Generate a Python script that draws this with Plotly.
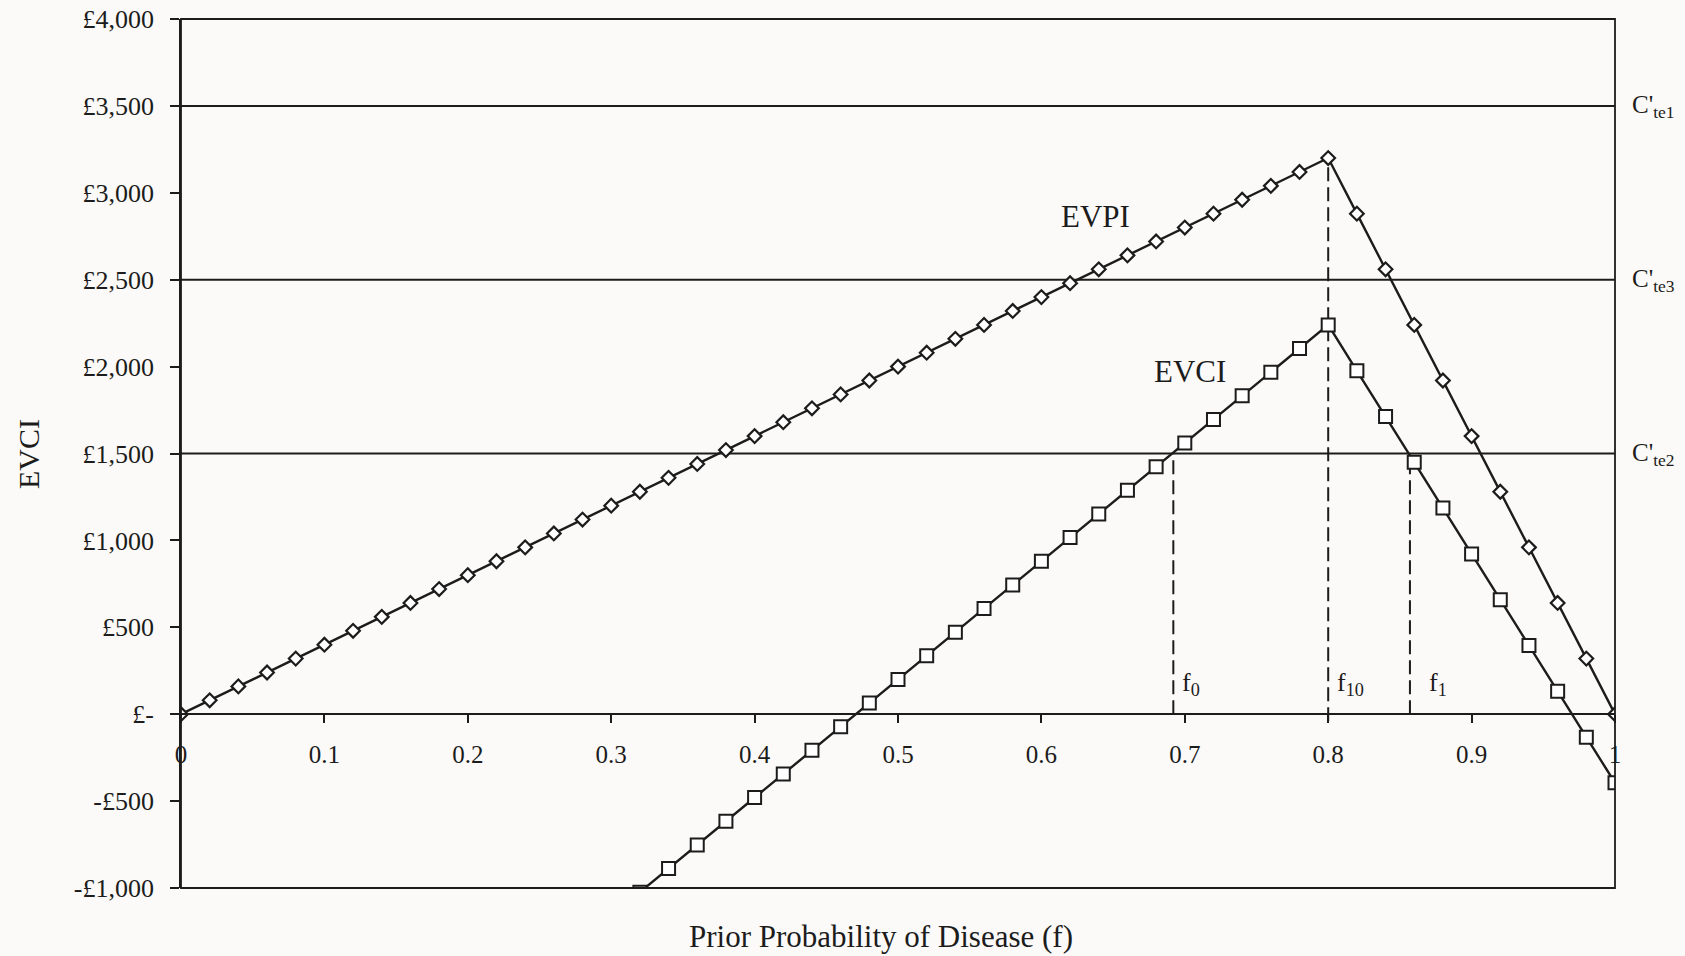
import plotly.graph_objects as go

# ---------------- data ----------------
f_evpi = [0.00, 0.02, 0.04, 0.06, 0.08, 0.10, 0.12, 0.14, 0.16, 0.18,
          0.20, 0.22, 0.24, 0.26, 0.28, 0.30, 0.32, 0.34, 0.36, 0.38,
          0.40, 0.42, 0.44, 0.46, 0.48, 0.50, 0.52, 0.54, 0.56, 0.58,
          0.60, 0.62, 0.64, 0.66, 0.68, 0.70, 0.72, 0.74, 0.76, 0.78,
          0.80, 0.82, 0.84, 0.86, 0.88, 0.90, 0.92, 0.94, 0.96, 0.98, 1.00]
evpi = [0, 80, 160, 240, 320, 400, 480, 560, 640, 720,
        800, 880, 960, 1040, 1120, 1200, 1280, 1360, 1440, 1520,
        1600, 1680, 1760, 1840, 1920, 2000, 2080, 2160, 2240, 2320,
        2400, 2480, 2560, 2640, 2720, 2800, 2880, 2960, 3040, 3120,
        3200, 2880, 2560, 2240, 1920, 1600, 1280, 960, 640, 320, 0]

f_evci = [0.32, 0.34, 0.36, 0.38, 0.40, 0.42, 0.44, 0.46, 0.48, 0.50,
          0.52, 0.54, 0.56, 0.58, 0.60, 0.62, 0.64, 0.66, 0.68, 0.70,
          0.72, 0.74, 0.76, 0.78, 0.80, 0.82, 0.84, 0.86, 0.88, 0.90,
          0.92, 0.94, 0.96, 0.98, 1.00]
evci = [-1024, -888, -752, -616, -480, -344, -208, -72, 64, 200,
        336, 472, 608, 744, 880, 1016, 1152, 1288, 1424, 1560,
        1696, 1832, 1968, 2104, 2240, 1976, 1713, 1449, 1186, 922,
        659, 395, 132, -132, -395]

cte_levels = [3500, 2500, 1500]
cte_labels = ["C'<sub>te1</sub>", "C'<sub>te3</sub>", "C'<sub>te2</sub>"]

threshold_f = [0.692, 0.80, 0.857]
threshold_top = [1500, 3200, 1500]
threshold_bottom = [0, -40, 0]
threshold_labels = ["f<sub>0</sub>", "f<sub>10</sub>", "f<sub>1</sub>"]

y_ticks = [-1000, -500, 0, 500, 1000, 1500, 2000, 2500, 3000, 3500, 4000]
y_ticktext = ["-£1,000", "-£500", "£-", "£500", "£1,000", "£1,500",
              "£2,000", "£2,500", "£3,000", "£3,500", "£4,000"]
x_ticks = [0, 0.1, 0.2, 0.3, 0.4, 0.5, 0.6, 0.7, 0.8, 0.9, 1.0]
x_ticktext = ["0", "0.1", "0.2", "0.3", "0.4", "0.5", "0.6", "0.7", "0.8", "0.9", "1"]

# ---------------- styling ----------------
FONT = "Liberation Serif, Times New Roman, serif"
INK = "#1c1c1c"
BG = "#fbfaf8"

fig = go.Figure()

# threshold lines C'te
for lvl in cte_levels:
    fig.add_trace(go.Scatter(x=[0, 1], y=[lvl, lvl], mode="lines",
                             line=dict(color=INK, width=2), hoverinfo="skip"))

# dashed vertical lines
for fx, top, bot in zip(threshold_f, threshold_top, threshold_bottom):
    fig.add_trace(go.Scatter(x=[fx, fx], y=[bot, top], mode="lines",
                             line=dict(color=INK, width=2, dash="14px,6px"),
                             hoverinfo="skip"))

# EVPI
fig.add_trace(go.Scatter(x=f_evpi, y=evpi, mode="lines+markers", name="EVPI",
                         line=dict(color=INK, width=2.4),
                         marker=dict(symbol="diamond", size=10.5, color="white",
                                     line=dict(color=INK, width=2.2)),
                         cliponaxis=True))
# EVCI
fig.add_trace(go.Scatter(x=f_evci, y=evci, mode="lines+markers", name="EVCI",
                         line=dict(color=INK, width=2.4),
                         marker=dict(symbol="square", size=13, color="white",
                                     line=dict(color=INK, width=2)),
                         cliponaxis=True))

annotations = []
for lvl, lab in zip(cte_levels, cte_labels):
    annotations.append(dict(x=1, xref="paper", y=lvl, yref="y", text=lab,
                            xanchor="left", yanchor="middle", xshift=15, yshift=-1,
                            showarrow=False, font=dict(size=25, color=INK, family=FONT)))
for fx, lab in zip(threshold_f, threshold_labels):
    annotations.append(dict(x=fx, xref="x", y=175, yref="y", text=lab,
                            xanchor="left", yanchor="middle",
                            xshift=7 if lab != "f<sub>1</sub>" else 17,
                            showarrow=False, font=dict(size=26, color=INK, family=FONT)))
annotations += [
    dict(x=0.638, y=2865, xref="x", yref="y", text="EVPI", showarrow=False,
         font=dict(size=31, color=INK, family=FONT)),
    dict(x=0.7036, y=1973, xref="x", yref="y", text="EVCI", showarrow=False,
         font=dict(size=31, color=INK, family=FONT)),
    dict(x=-0.1088, xshift=-15, y=0.5, xref="paper", yref="paper", text="EVCI",
         textangle=-90, showarrow=False, font=dict(size=30, color=INK, family=FONT)),
    dict(x=0.488, y=-0.0564, yshift=-19, xref="paper", yref="paper",
         text="Prior Probability of Disease (f)", showarrow=False,
         font=dict(size=31, color=INK, family=FONT)),
]

fig.update_layout(
    width=1685, height=956, autosize=False,
    margin=dict(l=181, r=70, t=19, b=68, pad=0),
    paper_bgcolor=BG, plot_bgcolor=BG, showlegend=False,
    font=dict(family=FONT, color=INK),
    xaxis=dict(range=[0, 1], anchor="free", position=0.2, automargin=False,
               showline=True, linecolor=INK, linewidth=1.6,
               ticks="outside", ticklen=8, tickwidth=1.5, tickcolor=INK,
               tickvals=x_ticks, ticktext=x_ticktext,
               tickfont=dict(size=25, color=INK, family=FONT),
               ticklabelstandoff=10,
               showgrid=False, zeroline=False),
    xaxis2=dict(overlaying="x", range=[0, 1], anchor="free", position=0.2,
                automargin=False,
                ticks="inside", ticklen=7, tickwidth=1.5, tickcolor=INK,
                tickvals=x_ticks, showticklabels=False, showline=False,
                showgrid=False, zeroline=False),
    yaxis=dict(range=[-1000, 4000], showline=True, linecolor=INK, linewidth=1.8,
               automargin=False,
               ticks="outside", ticklen=9, tickwidth=1.5, tickcolor=INK,
               tickvals=y_ticks, ticktext=y_ticktext,
               tickfont=dict(size=26, color=INK, family=FONT),
               ticklabelstandoff=11,
               showgrid=False, zeroline=False),
    yaxis2=dict(overlaying="y", range=[-1000, 4000], anchor="free", position=0,
                automargin=False,
                ticks="inside", ticklen=6, tickwidth=1.5, tickcolor=INK,
                tickvals=y_ticks, showticklabels=False, showline=False,
                showgrid=False, zeroline=False),
    shapes=[dict(type="rect", xref="paper", yref="paper", x0=0, x1=1, y0=0, y1=1,
                 line=dict(color=INK, width=1.8), fillcolor="rgba(0,0,0,0)", layer="above")],
    annotations=annotations,
)

fig.write_html("out.html")
